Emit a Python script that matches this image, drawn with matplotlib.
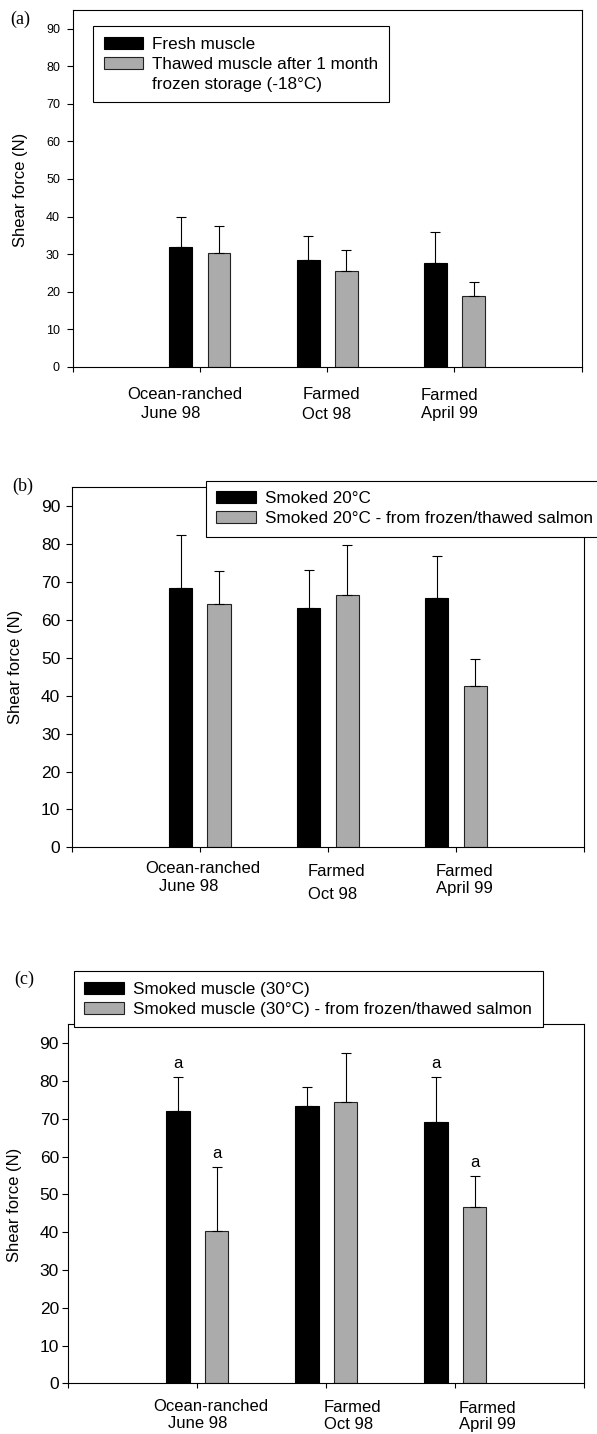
import matplotlib
matplotlib.use('Agg')
import matplotlib.pyplot as plt
from matplotlib.patches import Patch

plt.rcParams['font.family'] = ['Liberation Sans', 'DejaVu Sans']

# x positions of the three groups (axis runs 0..4)
groups = [1, 2, 3]

# (a) fresh vs thawed muscle
fresh = [31.8, 28.3, 27.7]
fresh_sd = [8.2, 6.4, 8.1]
thawed = [30.2, 25.5, 18.7]
thawed_sd = [7.3, 5.7, 3.8]

# (b) smoked at 20C
smoked20 = [68.4, 63.1, 65.9]
smoked20_sd = [14.1, 10.2, 10.9]
smoked20_ft = [64.1, 66.5, 42.5]
smoked20_ft_sd = [8.9, 13.3, 7.2]

# (c) smoked at 30C
smoked30 = [72.1, 73.4, 69.2]
smoked30_sd = [9.0, 5.1, 11.9]
smoked30_ft = [40.2, 74.5, 46.7]
smoked30_ft_sd = [17.0, 12.9, 8.2]
letters30 = ['a', '', 'a']
letters30_ft = ['a', '', 'a']

cat_lines = [['Ocean-ranched', 'June 98'], ['Farmed', 'Oct 98'], ['Farmed', 'April 99']]

legend_a = ['Fresh muscle', 'Thawed muscle after 1 month', 'frozen storage (-18\u00b0C)']
legend_b = ['Smoked 20\u00b0C', 'Smoked 20\u00b0C - from frozen/thawed salmon']
legend_c = ['Smoked muscle (30\u00b0C)', 'Smoked muscle (30\u00b0C) - from frozen/thawed salmon']

GRAY = '#ababab'
W, H = 597, 1434
PX = 0.72  # points per pixel at dpi 100

fig = plt.figure(figsize=(W / 100, H / 100), dpi=100)


def px_axes(l, r, t, b):
    return fig.add_axes([l / W, 1 - b / H, (r - l) / W, (b - t) / H])


def draw_bars(ax, black, black_sd, gray, gray_sd, ticksize, pad):
    xb = [g - 0.15 for g in groups]
    xg = [g + 0.15 for g in groups]
    ax.bar(xb, black, 0.18, color='black', edgecolor='black', linewidth=0.8, zorder=2)
    ax.bar(xg, gray, 0.18, color=GRAY, edgecolor='#222222', linewidth=0.8, zorder=2)
    ax.errorbar(xb, black, yerr=[[0] * 3, black_sd], fmt='none', ecolor='black',
                elinewidth=0.8, capsize=3.8, capthick=0.8, zorder=3)
    ax.errorbar(xg, gray, yerr=[[0] * 3, gray_sd], fmt='none', ecolor='black',
                elinewidth=0.8, capsize=3.8, capthick=0.8, zorder=3)
    ax.set_xlim(0, 4)
    ax.set_ylim(0, 95)
    ax.set_yticks(range(0, 91, 10))
    ax.set_xticks([0, 1, 2, 3, 4])
    ax.set_xticklabels([])
    ax.tick_params(axis='y', direction='out', length=4.2, width=0.8, labelsize=ticksize, pad=pad)
    ax.tick_params(axis='x', direction='out', length=3.5, width=0.8)
    for s in ax.spines.values():
        s.set_linewidth(0.8)
    return xb, xg


def cat_labels(ax, offsets):
    # offsets: per group (dx1, dy1, dx2, dy2) in pixels
    for g, lines, off in zip(groups, cat_lines, offsets):
        for i, txt in enumerate(lines):
            dx, dy = off[2 * i], off[2 * i + 1]
            ax.annotate(txt, xy=(g, 0), xycoords=('data', 'axes fraction'),
                        xytext=(dx * PX, -dy * PX), textcoords='offset points',
                        ha='center', va='baseline', fontsize=12, annotation_clip=False)


def add_legend(ax, labels, x, y, multiline=False):
    handles = [Patch(facecolor='black', edgecolor='black', linewidth=0.8),
               Patch(facecolor=GRAY, edgecolor='#222222', linewidth=0.8)]
    if multiline:
        handles.append(Patch(facecolor='none', edgecolor='none'))
    leg = ax.legend(handles, labels, loc='upper left', bbox_to_anchor=(x / W, 1 - y / H),
                    bbox_transform=fig.transFigure, borderaxespad=0, fontsize=12.3,
                    frameon=True, fancybox=False, framealpha=1, edgecolor='black',
                    handlelength=2.3, handleheight=0.7, handletextpad=0.55,
                    labelspacing=0.3, borderpad=0.62)
    leg.get_frame().set_linewidth(0.8)
    leg.set_zorder(10)
    return leg


# ---- panel (a)
ax_a = px_axes(72.7, 581.7, 10, 366.7)
draw_bars(ax_a, fresh, fresh_sd, thawed, thawed_sd, 9, 5)
add_legend(ax_a, legend_a, 93, 26, multiline=True)
cat_labels(ax_a, [(-15.6, 32, -29, 51), (3.8, 32.3, -0.4, 52.6), (-4.8, 33.3, -4.8, 51)])

# ---- panel (b)
ax_b = px_axes(71.7, 584, 487.3, 847.3)
draw_bars(ax_b, smoked20, smoked20_sd, smoked20_ft, smoked20_ft_sd, 12.5, 4)
add_legend(ax_b, legend_b, 205.7, 480.7)
cat_labels(ax_b, [(2.6, 25.6, -11.3, 44), (8.5, 28.3, 4.4, 51.7), (9, 28.3, 9, 46)])

# ---- panel (c)
ax_c = px_axes(68.3, 584.3, 1024.3, 1383.3)
xb, xg = draw_bars(ax_c, smoked30, smoked30_sd, smoked30_ft, smoked30_ft_sd, 12.5, 2.5)
add_legend(ax_c, legend_c, 73.9, 971)
cat_labels(ax_c, [(13.5, 27.5, 0, 44.5), (25.8, 29, 22, 46), (32, 29.5, 32, 45.5)])
for x, m, sd, lab in zip(xb, smoked30, smoked30_sd, letters30):
    ax_c.text(x, m + sd + 3.5, lab, ha='center', va='center', fontsize=12)
for x, m, sd, lab in zip(xg, smoked30_ft, smoked30_ft_sd, letters30_ft):
    ax_c.text(x, m + sd + 3.5, lab, ha='center', va='center', fontsize=12)

# y labels and panel letters
for yc, xc in [(190, 20.5), (667, 15.7), (1205, 14.7)]:
    fig.text(xc / W, 1 - yc / H, 'Shear force (N)', rotation=90, ha='center', va='center', fontsize=12)
for txt, xc, yc in [('(a)', 20.5, 19.5), ('(b)', 22.5, 486.5), ('(c)', 24.5, 979)]:
    fig.text(xc / W, 1 - yc / H, txt, ha='center', va='center', fontsize=13,
             family=['Liberation Serif', 'DejaVu Serif'])

fig.savefig('out.png', dpi=100)
